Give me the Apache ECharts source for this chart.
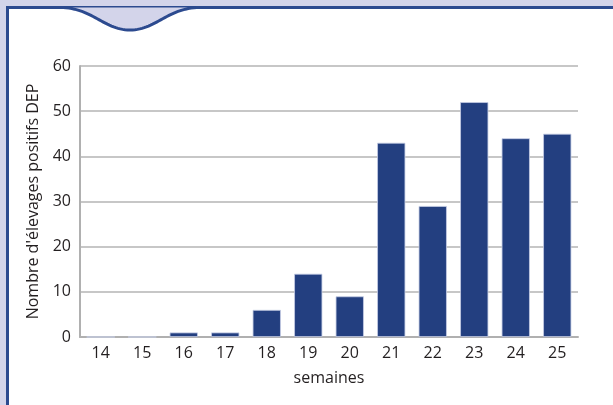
<!DOCTYPE html>
<html>
<head>
<meta charset="utf-8">
<script src="https://cdn.jsdelivr.net/npm/echarts@6/dist/echarts.min.js"></script>
<style>
  html, body { margin: 0; padding: 0; background: #d3d4ea; }
  #chart { width: 613px; height: 405px; }
</style>
</head>
<body>
<div id="chart"></div>
<script>
const weeks = ["14", "15", "16", "17", "18", "19", "20", "21", "22", "23", "24", "25"];
const positifs = [0, 0, 1, 1, 6, 14, 9, 43, 29, 52, 44, 45];
const yTicks = { min: 0, max: 60, interval: 10 };

const labelFont = { fontFamily: "Open Sans", fontSize: 16, color: "#231f20" };

// vague décorative du cadre (courbes de Bézier échantillonnées)
function bez(p0, p1, p2, p3, n) {
  const pts = [];
  for (let i = 0; i <= n; i++) {
    const t = i / n, u = 1 - t;
    pts.push([
      u * u * u * p0[0] + 3 * u * u * t * p1[0] + 3 * u * t * t * p2[0] + t * t * t * p3[0],
      u * u * u * p0[1] + 3 * u * u * t * p1[1] + 3 * u * t * t * p2[1] + t * t * t * p3[1]
    ]);
  }
  return pts;
}
const wave = bez([60, 7.5], [92, 7.5], [104, 30], [130, 30], 30)
  .concat(bez([130, 30], [156, 30], [168, 7.5], [200, 7.5], 30));

const chart = echarts.init(document.getElementById("chart"));
chart.setOption({
  backgroundColor: "#d3d4ea",
  animation: false,
  graphic: [
    {
      type: "rect",
      z: -10,
      shape: { x: 7.5, y: 7.5, width: 640, height: 420 },
      style: { fill: "#ffffff", stroke: "#2c4a8f", lineWidth: 3 }
    },
    {
      type: "polygon",
      z: -9,
      shape: { points: wave },
      style: { fill: "#d3d4ea" }
    },
    {
      type: "polyline",
      z: -8,
      shape: { points: wave },
      style: { stroke: "#2c4a8f", lineWidth: 3, fill: null }
    }
  ],
  grid: { left: 80, right: 35, top: 66, bottom: 68 },
  xAxis: {
    type: "category",
    data: weeks,
    name: "semaines",
    nameLocation: "middle",
    nameGap: 33,
    nameTextStyle: labelFont,
    axisLine: { lineStyle: { color: "#b0b0b0", width: 2 } },
    axisTick: { show: false },
    axisLabel: Object.assign({ margin: 8 }, labelFont)
  },
  yAxis: {
    type: "value",
    min: yTicks.min,
    max: yTicks.max,
    interval: yTicks.interval,
    name: "Nombre d'élevages positifs DEP",
    nameLocation: "middle",
    nameGap: 38,
    nameTextStyle: labelFont,
    axisLine: { show: true, lineStyle: { color: "#b0b0b0", width: 2 } },
    axisTick: { show: false },
    axisLabel: Object.assign({ margin: 9 }, labelFont),
    splitLine: { lineStyle: { color: "#b4b4b4", width: 1.5 } }
  },
  series: [
    {
      type: "bar",
      data: positifs,
      barWidth: "68%",
      itemStyle: { color: "#233f80", borderColor: "#c5cde4", borderWidth: 0.8 }
    }
  ]
});
</script>
</body>
</html>
